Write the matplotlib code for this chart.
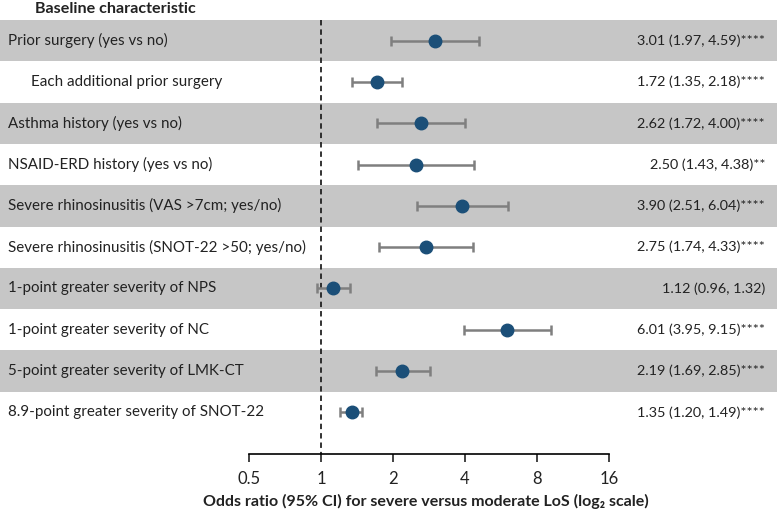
import matplotlib
matplotlib.use('Agg')
import matplotlib.pyplot as plt
from matplotlib.ticker import FixedLocator, FixedFormatter

plt.rcParams['font.family'] = ['Lato', 'DejaVu Sans']

labels = ['Prior surgery (yes vs no)', 'Each additional prior surgery',
          'Asthma history (yes vs no)', 'NSAID-ERD history (yes vs no)',
          'Severe rhinosinusitis (VAS >7cm; yes/no)',
          'Severe rhinosinusitis (SNOT-22 >50; yes/no)',
          '1-point greater severity of NPS', '1-point greater severity of NC',
          '5-point greater severity of LMK-CT', '8.9-point greater severity of SNOT-22']
indent = [False, True, False, False, False, False, False, False, False, False]
odds = [3.01, 1.72, 2.62, 2.50, 3.90, 2.75, 1.12, 6.01, 2.19, 1.35]
lo = [1.97, 1.35, 1.72, 1.43, 2.51, 1.74, 0.96, 3.95, 1.69, 1.20]
hi = [4.59, 2.18, 4.00, 4.38, 6.04, 4.33, 1.32, 9.15, 2.85, 1.49]
stars = ['****', '****', '****', '**', '****', '****', '', '****', '****', '****']
ticks = [0.5, 1, 2, 4, 8, 16]
tick_labels = ['0.5', '1', '2', '4', '8', '16']

W, H = 777, 511
fig = plt.figure(figsize=(W / 100, H / 100), dpi=100)
ax = fig.add_axes([0, (H - 454) / H, 1, 454 / H])

n = len(labels)
ax.set_xscale('log', base=2)
ax.set_xlim(2 ** (-321 / 72), 2 ** ((W - 321) / 72))
ax.set_ylim(10.008, -0.984)

for i in range(n):
    if i % 2 == 0:
        ax.axhspan(i - 0.5, i + 0.5, color='#c6c6c6', lw=0, zorder=0)

ax.plot([1, 1], [-0.5, 10.008], ls=(0, (3, 2.2)), color='#222222', lw=1.3, zorder=1)

ys = list(range(n))
err = [[o - l for o, l in zip(odds, lo)], [h - o for o, h in zip(odds, hi)]]
ax.errorbar(odds, ys, xerr=err, fmt='none', ecolor='#7f7f7f', elinewidth=1.8,
            capsize=3.5, capthick=1.8, zorder=2)
ax.plot(odds, ys, 'o', color='#1b4f78', ms=9, zorder=3)

for i in range(n):
    x0 = 31 / W if indent[i] else 8 / W
    ax.text(x0, i, labels[i], transform=ax.get_yaxis_transform(), ha='left', va='center',
            fontsize=10.9, color='#222222')
    txt = '%.2f (%.2f, %.2f)%s' % (odds[i], lo[i], hi[i], stars[i])
    ax.text(765 / W, i, txt, transform=ax.get_yaxis_transform(), ha='right', va='center',
            fontsize=10.4, color='#222222')

fig.text(35 / W, 1 - 9 / H, 'Baseline characteristic', ha='left', va='center',
         fontsize=11.6, fontweight='bold', color='#222222')

for s in ['top', 'left', 'right']:
    ax.spines[s].set_visible(False)
ax.spines['bottom'].set_bounds(0.5, 16)
ax.spines['bottom'].set_linewidth(1.2)
ax.xaxis.set_major_locator(FixedLocator(ticks))
ax.xaxis.set_major_formatter(FixedFormatter(tick_labels))
ax.xaxis.set_minor_locator(FixedLocator([]))
ax.tick_params(axis='x', length=6, width=1.2, labelsize=12, pad=6, colors='#222222')
ax.set_yticks([])

fig.text(426 / W, 1 - 501 / H, 'Odds ratio (95% CI) for severe versus moderate LoS (log\u2082 scale)',
         ha='center', va='center', fontsize=11.5, fontweight='bold', color='#222222')

fig.savefig('out.png', dpi=100)
